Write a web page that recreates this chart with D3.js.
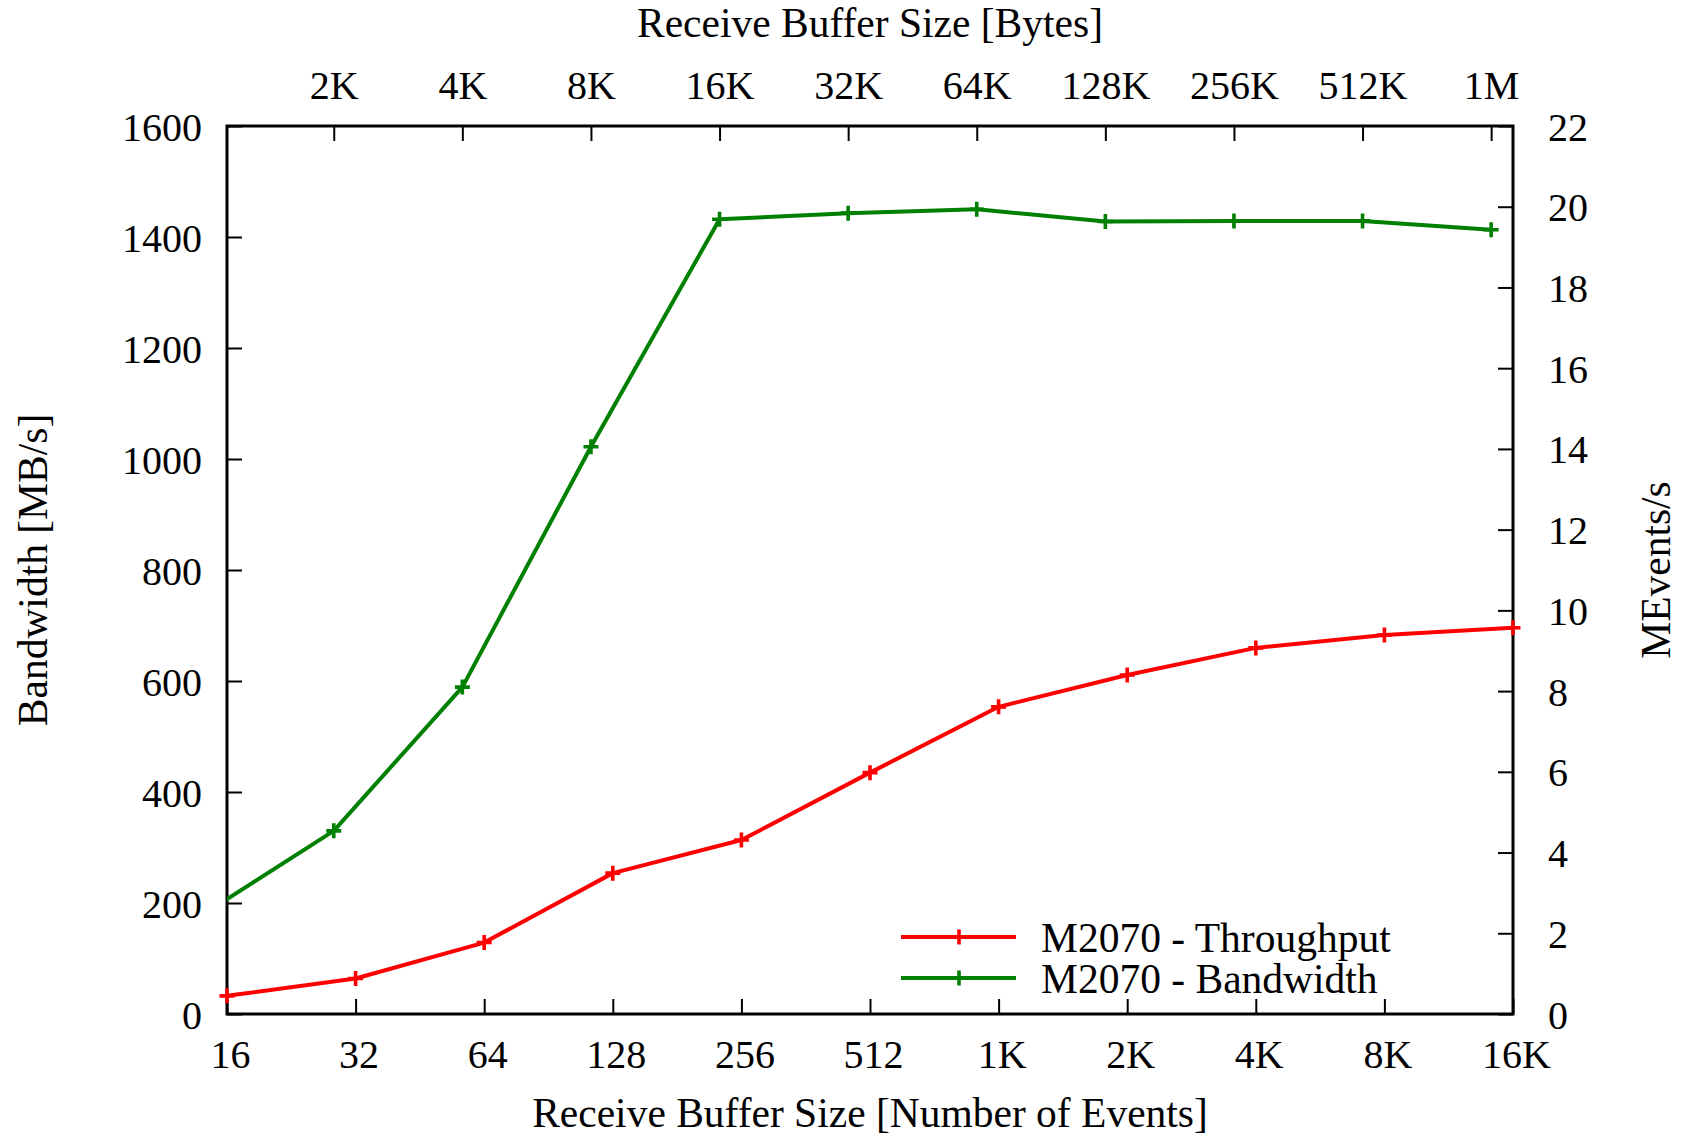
<!DOCTYPE html>
<html>
<head>
<meta charset="utf-8">
<script src="https://cdn.jsdelivr.net/npm/d3@7"></script>
<style>
  html, body { margin: 0; padding: 0; background: #fff; }
  svg { display: block; }
  text { font-family: "Liberation Serif", "Times New Roman", serif; fill: #000; }
</style>
</head>
<body>
<svg id="chart" width="1686" height="1138"></svg>
<script>
// Receive buffer size in number of events (bottom axis)
const events = [16, 32, 64, 128, 256, 512, 1024, 2048, 4096, 8192, 16384];
const eventLabels = ["16", "32", "64", "128", "256", "512", "1K", "2K", "4K", "8K", "16K"];
// Receive buffer size in bytes (top axis), 72 bytes per event
const bytesPerEvent = 72;
const byteTicks = [2048, 4096, 8192, 16384, 32768, 65536, 131072, 262144, 524288, 1048576];
const byteLabels = ["2K", "4K", "8K", "16K", "32K", "64K", "128K", "256K", "512K", "1M"];

// M2070 throughput [MEvents/s] per event buffer size
const throughput = [0.45, 0.88, 1.77, 3.49, 4.31, 5.98, 7.61, 8.40, 9.07, 9.39, 9.57];
// M2070 bandwidth [MB/s] per byte buffer size
const bandwidthBytes = [1024, 2048, 4096, 8192, 16384, 32768, 65536, 131072, 262144, 524288, 1048576];
const bandwidth = [182, 330, 589, 1022, 1432, 1443, 1450, 1428, 1429, 1429, 1413];

const leftTicks = [0, 200, 400, 600, 800, 1000, 1200, 1400, 1600];
const rightTicks = [0, 2, 4, 6, 8, 10, 12, 14, 16, 18, 20, 22];

const svg = d3.select("#chart");
const L = 227, R = 1513, T = 126, B = 1014;
const FS = 40;
const TITLE_FS = 41.5;

const x = d3.scaleLog().base(2).domain([16, 16384]).range([L, R]);
const xTop = d3.scaleLog().base(2).domain([16 * bytesPerEvent, 16384 * bytesPerEvent]).range([L, R]);
const yL = d3.scaleLinear().domain([0, 1600]).range([B, T]);
const yR = d3.scaleLinear().domain([0, 22]).range([B, T]);

svg.append("defs").append("clipPath").attr("id", "plotClip")
  .append("rect").attr("x", L).attr("y", T).attr("width", R - L).attr("height", B - T);

function styleAxis(g) {
  g.select(".domain").remove();
  g.selectAll(".tick line").attr("stroke", "#000").attr("stroke-width", 2);
  g.selectAll(".tick text").style("font-size", FS + "px")
    .style("font-family", '"Liberation Serif", serif').attr("fill", "#000");
}

// bottom axis: ticks pointing inward
svg.append("g").attr("transform", `translate(0,${B})`)
  .call(d3.axisBottom(x).tickValues(events).tickFormat((d, i) => eventLabels[i])
    .tickSizeInner(-15).tickSizeOuter(0).tickPadding(0))
  .call(styleAxis)
  .call(g => g.selectAll(".tick text").attr("y", 54).attr("dy", 0).attr("dx", 3));

// top axis
svg.append("g").attr("transform", `translate(0,${T})`)
  .call(d3.axisTop(xTop).tickValues(byteTicks).tickFormat((d, i) => byteLabels[i])
    .tickSizeInner(-15).tickSizeOuter(0).tickPadding(0))
  .call(styleAxis)
  .call(g => g.selectAll(".tick text").attr("y", -27).attr("dy", 0));

// left axis
svg.append("g").attr("transform", `translate(${L},0)`)
  .call(d3.axisLeft(yL).tickValues(leftTicks).tickFormat(d3.format("d"))
    .tickSizeInner(-15).tickSizeOuter(0).tickPadding(0))
  .call(styleAxis)
  .call(g => g.selectAll(".tick text").attr("x", -25).attr("dy", "0.35em"));

// right axis
svg.append("g").attr("transform", `translate(${R},0)`)
  .call(d3.axisRight(yR).tickValues(rightTicks).tickFormat(d3.format("d"))
    .tickSizeInner(-15).tickSizeOuter(0).tickPadding(0))
  .call(styleAxis)
  .call(g => g.selectAll(".tick text").attr("x", 35).attr("dy", "0.35em"));

// plot border
svg.append("rect").attr("x", L).attr("y", T).attr("width", R - L).attr("height", B - T)
  .attr("fill", "none").attr("stroke", "#000").attr("stroke-width", 3);

function plus(g, cx, cy, color) {
  const s = 7.5;
  g.append("path").attr("d", `M${cx - s},${cy}H${cx + s}M${cx},${cy - s}V${cy + s}`)
    .attr("stroke", color).attr("stroke-width", 3.6).attr("fill", "none");
}

// bandwidth series (top byte axis, left MB/s axis)
const green = "#008000";
const gData = bandwidthBytes.map((b, i) => [b, bandwidth[i]]);
svg.append("path").datum(gData)
  .attr("clip-path", "url(#plotClip)")
  .attr("d", d3.line().x(d => xTop(d[0])).y(d => yL(d[1])))
  .attr("fill", "none").attr("stroke", green).attr("stroke-width", 4)
  .attr("stroke-linejoin", "round");
const gPts = svg.append("g");
gData.filter(d => d[0] >= xTop.domain()[0]).forEach(d => plus(gPts, xTop(d[0]), yL(d[1]), green));

// throughput series (bottom event axis, right MEvents/s axis)
const red = "#ff0000";
const rData = events.map((e, i) => [e, throughput[i]]);
svg.append("path").datum(rData)
  .attr("d", d3.line().x(d => x(d[0])).y(d => yR(d[1])))
  .attr("fill", "none").attr("stroke", red).attr("stroke-width", 4)
  .attr("stroke-linejoin", "round");
const rPts = svg.append("g");
rData.forEach(d => plus(rPts, x(d[0]), yR(d[1]), red));

// legend
const legend = [
  { label: "M2070 - Throughput", color: red, y: 937 },
  { label: "M2070 - Bandwidth", color: green, y: 978 }
];
legend.forEach(item => {
  svg.append("line").attr("x1", 901).attr("x2", 1016).attr("y1", item.y).attr("y2", item.y)
    .attr("stroke", item.color).attr("stroke-width", 4);
  plus(svg, 959, item.y, item.color);
  svg.append("text").attr("x", 1041).attr("y", item.y).attr("dy", "0.35em")
    .style("font-size", TITLE_FS + "px").text(item.label);
});

// axis titles
svg.append("text").attr("x", (L + R) / 2).attr("y", 37).attr("text-anchor", "middle")
  .style("font-size", TITLE_FS + "px").text("Receive Buffer Size [Bytes]");
svg.append("text").attr("x", (L + R) / 2).attr("y", 1127).attr("text-anchor", "middle")
  .style("font-size", TITLE_FS + "px").text("Receive Buffer Size [Number of Events]");
svg.append("text").attr("transform", `translate(47,${(T + B) / 2}) rotate(-90)`)
  .attr("text-anchor", "middle").style("font-size", TITLE_FS + "px").text("Bandwidth [MB/s]");
svg.append("text").attr("transform", `translate(1670,${(T + B) / 2}) rotate(-90)`)
  .attr("text-anchor", "middle").style("font-size", TITLE_FS + "px").text("MEvents/s");
</script>
</body>
</html>
